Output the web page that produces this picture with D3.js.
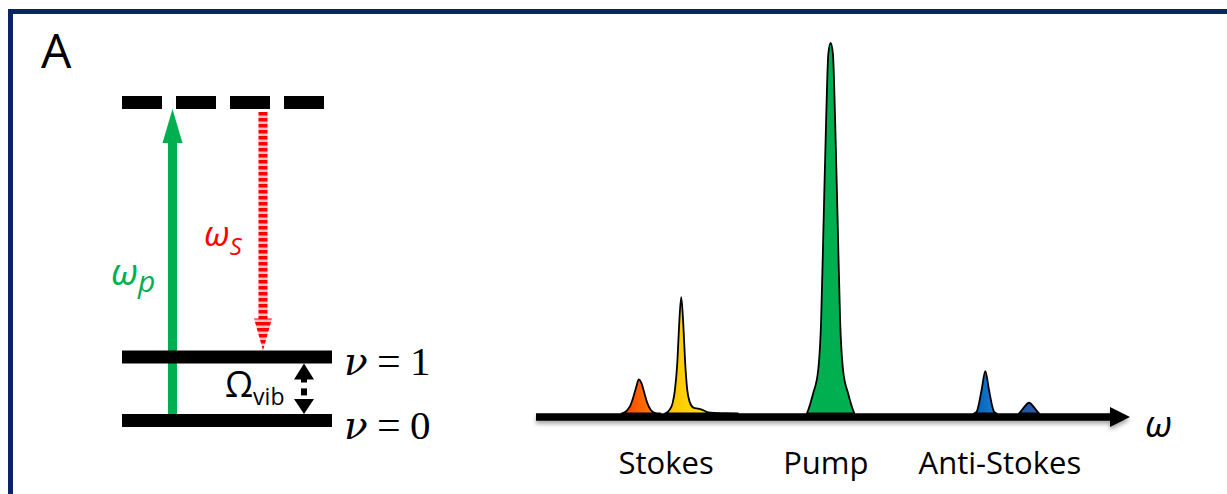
<!DOCTYPE html>
<html><head><meta charset="utf-8">
<script src="https://cdn.jsdelivr.net/npm/d3@7"></script>
<style>html,body{margin:0;padding:0;background:#fff;overflow:hidden}</style>
</head><body><svg id="c" width="1227" height="494"></svg>
<script>
// ---------- data ----------
const panelLabel = "A";
const levelKeys = ["v0", "v1", "virtual"];
const levelEnergies = [0, 1, 5];
const levelLabelValues = ["0", "1"];
const spectrumCategories = ["Stokes", "Pump", "Anti-Stokes"];
const categoryPositions = [21.9, 48.8, 78.1];
const peakNames = ["stokes2", "stokes1", "pump", "antiStokes1", "antiStokes2"];
// [omega (a.u.), intensity (a.u.)]
const stokes2 = [[14.4,0],[15.3,0.8],[15.9,2.2],[16.4,4.5],[16.9,7.3],[17.3,9.2],[17.7,8.4],[18.2,5.8],[18.7,3.0],[19.3,1.0],[20.0,0.2],[20.9,0]];
const stokes1 = [[21.7,0],[22.5,1.0],[23.0,2.8],[23.4,6.5],[23.8,14],[24.1,24],[24.45,31.4],[24.8,24],[25.1,14],[25.45,6.5],[25.9,3.0],[26.5,1.6],[27.3,1.3],[28.0,1.0],[28.8,0.4],[30.0,0.15],[32.0,0.1],[34.0,0]];
const pump = [[45.6,0],[45.8,0.8],[46.65,5.4],[47.5,11.6],[48.0,25],[48.42,52],[48.84,79],[49.21,97],[49.6,100],[49.99,97],[50.36,79],[50.78,52],[51.2,25],[51.7,11.6],[52.55,5.4],[53.4,0.8],[53.6,0]];
const antiStokes1 = [[73.7,0],[74.2,0.5],[74.43,1.7],[75.0,6.2],[75.64,11.4],[76.28,6.2],[76.85,1.7],[77.1,0.5],[77.6,0]];
const antiStokes2 = [[81.3,0],[81.96,1.27],[83.0,2.9],[84.04,1.27],[84.7,0]];
const peakColors = [["#ff3d00","#ff8c00"],["#ffbf00","#ffff10"],["#00b050","#00b050"],["#005eb8","#1f7fd0"],["#1e4f9c","#2a62b0"]];

// ---------- drawing ----------
const svg = d3.select("#c");
const defs = svg.append("defs");

// border
svg.append("rect").attr("x",10.5).attr("y",11.5).attr("width",1300).attr("height",600)
  .attr("fill","none").attr("stroke","#0b2462").attr("stroke-width",5);

svg.append("text").attr("x",41).attr("y",68).text(panelLabel)
  .attr("font-family","Open Sans").attr("font-size",48).attr("fill","#000");

// ----- energy level diagram -----
const yE = d3.scaleLinear().domain([0,5]).range([420.5,102.5]);
const levelX0 = 122, levelX1 = 332, levelW = 13;

// stripe pattern for stokes arrow
const pat = defs.append("pattern").attr("id","stripes").attr("patternUnits","userSpaceOnUse")
  .attr("width",40).attr("height",6).attr("y",112);
pat.append("rect").attr("width",40).attr("height",6).attr("fill","#ffbdbd");
pat.append("rect").attr("width",40).attr("height",3.5).attr("fill","#ff0000");

// pump arrow (green)
const gx = 172.5, gTip = yE(5)+levelW/2, gBottom = yE(0)-levelW/2+1, gHead = gTip+34;
svg.append("path").attr("fill","#00b050").attr("d",
  `M${gx-4.5},${gBottom} L${gx-4.5},${gHead} L${gx-10},${gHead} L${gx},${gTip} L${gx+10},${gHead} L${gx+4.5},${gHead} L${gx+4.5},${gBottom} Z`);

// stokes arrow (red striped)
const rx = 263, rTop = yE(5)+levelW/2+3, rTip = yE(1)-levelW/2, rHead = rTip-32;
svg.append("path").attr("fill","url(#stripes)").attr("d",
  `M${rx-4.5},${rTop} L${rx-4.5},${rHead} L${rx-9},${rHead} L${rx},${rTip} L${rx+9},${rHead} L${rx+4.5},${rHead} L${rx+4.5},${rTop} Z`);

// levels
levelKeys.forEach((k,i)=>{
  const y = yE(levelEnergies[i]);
  const line = svg.append("line").attr("x1",levelX0).attr("x2", k==="virtual"?325:levelX1)
    .attr("y1",y).attr("y2",y).attr("stroke","#000").attr("stroke-width",levelW);
  if(k==="virtual") line.attr("stroke-dasharray","40,14");
});

// Omega_vib double arrow
const ox = 304, oTop = yE(1)+levelW/2, oBot = yE(0)-levelW/2;
svg.append("path").attr("fill","#000").attr("d",`M${ox},${oTop} L${ox+10},${oTop+16} L${ox+3},${oTop+16} L${ox+3},${oTop+19} L${ox-3},${oTop+19} L${ox-3},${oTop+16} L${ox-10},${oTop+16} Z`);
svg.append("rect").attr("x",ox-3).attr("y",oTop+25).attr("width",6).attr("height",7).attr("fill","#000");
svg.append("path").attr("fill","#000").attr("d",`M${ox},${oBot} L${ox+10},${oBot-15} L${ox-10},${oBot-15} Z`);

// labels in diagram
const ws = svg.append("text").attr("x",204).attr("y",246).attr("fill","#ff0000")
  .attr("font-family","Open Sans").attr("font-style","italic");
ws.append("tspan").attr("font-size",35).text("ω");
ws.append("tspan").attr("font-size",24).attr("dy",9).text("S");

const wp = svg.append("text").attr("x",111).attr("y",285).attr("fill","#00b050")
  .attr("font-family","Open Sans").attr("font-style","italic");
wp.append("tspan").attr("font-size",37).text("ω");
wp.append("tspan").attr("font-size",30).attr("dy",7).text("p");

const om = svg.append("text").attr("x",225).attr("y",397).attr("fill","#000").attr("font-family","Open Sans");
om.append("tspan").attr("font-size",36).text("Ω");
om.append("tspan").attr("font-size",23).attr("dy",8).text("vib");

levelLabelValues.forEach((v,i)=>{
  const yb = yE(levelEnergies[i]) + 18;
  const t = svg.append("text").attr("y",yb).attr("fill","#000");
  t.append("tspan").attr("x",344).attr("font-family","DejaVu Serif").attr("font-style","italic").attr("font-size",39).text("ν");
  t.append("tspan").attr("x",377).attr("font-family","Liberation Serif").attr("font-size",42).text("=");
  t.append("tspan").attr("x",410).attr("font-family","Liberation Serif").attr("font-size",41).text(v);
});

// ----- spectrum -----
const xS = d3.scaleLinear().domain([0,100]).range([536,1130]);
const yS = d3.scaleLinear().domain([0,100]).range([413.5,43]);
const area = d3.area().x(d=>xS(d[0])).y0(yS(0)).y1(d=>yS(d[1])).curve(d3.curveMonotoneX);
const peaks = [stokes2, stokes1, pump, antiStokes1, antiStokes2];
peaks.forEach((p,i)=>{
  const g = defs.append("linearGradient").attr("id","g"+i).attr("x1","0").attr("x2","1").attr("y1","0").attr("y2","0");
  g.append("stop").attr("offset","0").attr("stop-color",peakColors[i][0]);
  g.append("stop").attr("offset","1").attr("stop-color",peakColors[i][1]);
  svg.append("path").datum(p).attr("d",area).attr("fill",`url(#g${i})`)
    .attr("stroke","#000").attr("stroke-width",1.8).attr("stroke-linejoin","round").attr("class",peakNames[i]);
});

// axis with shadow
const f = defs.append("filter").attr("id","sh").attr("x","-5%").attr("y","-100%").attr("width","110%").attr("height","400%");
f.append("feDropShadow").attr("dx",0).attr("dy",3).attr("stdDeviation",2).attr("flood-color","#000").attr("flood-opacity",0.35);
const ay = 417, aEnd = xS(100), aHead = aEnd-20;
svg.append("path").attr("filter","url(#sh)").attr("fill","#000").attr("d",
  `M${xS(0)},${ay-3.7} L${aHead},${ay-3.7} L${aHead},${ay-10} L${aEnd},${ay} L${aHead},${ay+10} L${aHead},${ay+3.7} L${xS(0)},${ay+3.7} Z`);

svg.append("text").attr("x",1145).attr("y",437).attr("font-family","Open Sans").attr("font-style","italic")
  .attr("font-size",37).attr("fill","#000").text("ω");

spectrumCategories.forEach((c,i)=>{
  svg.append("text").attr("x",xS(categoryPositions[i])).attr("y",474).attr("text-anchor","middle")
    .attr("font-family","Open Sans").attr("font-size",31).attr("fill","#000").text(c);
});
</script></body></html>
